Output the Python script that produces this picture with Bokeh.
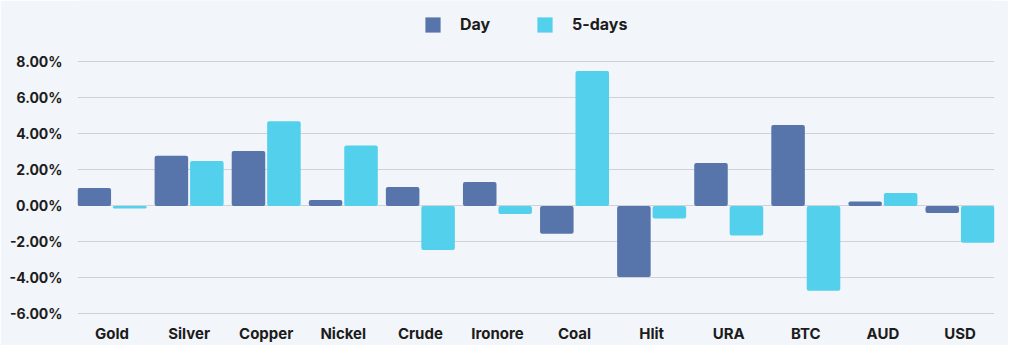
from bokeh.plotting import figure
from bokeh.models import ColumnDataSource, FactorRange, Range1d, FixedTicker, PrintfTickFormatter, Legend, LegendItem
from bokeh.transform import dodge
from bokeh.embed import file_html
from bokeh.resources import INLINE

categories = ["Gold", "Silver", "Copper", "Nickel", "Crude", "Ironore", "Coal", "Hlit", "URA", "BTC", "AUD", "USD"]
day = [1.0, 2.78, 3.05, 0.33, 1.05, 1.33, -1.55, -3.95, 2.38, 4.5, 0.25, -0.4]
five_days = [-0.15, 2.5, 4.7, 3.35, -2.45, -0.45, 7.5, -0.7, -1.65, -4.72, 0.72, -2.05]
y_ticks = [-6, -4, -2, 0, 2, 4, 6, 8]

src = ColumnDataSource(dict(cat=categories, day=day, five=five_days))

FONT = "Inter"
BG = "#f2f5f9"

p = figure(x_range=FactorRange(*categories, range_padding=-0.0087), y_range=Range1d(-6.2, 11.41),
           frame_width=917, frame_height=317, output_backend="svg", toolbar_location=None,
           min_border_left=77, min_border_right=14, min_border_top=0, min_border_bottom=22)
p.background_fill_color = BG
p.border_fill_color = BG
p.outline_line_color = None

r1 = p.vbar(x=dodge("cat", -0.23, range=p.x_range), top="day", width=0.435, source=src,
            fill_color="#5875ab", line_color=None, border_radius=2)
r2 = p.vbar(x=dodge("cat", 0.23, range=p.x_range), top="five", width=0.435, source=src,
            fill_color="#52d0ec", line_color=None, border_radius=2)

p.xgrid.grid_line_color = None
p.ygrid.grid_line_color = "#cfd2d6"
p.ygrid.grid_line_width = 1
p.yaxis.ticker = FixedTicker(ticks=y_ticks)
p.yaxis.formatter = PrintfTickFormatter(format="%.2f%%")

for ax in (p.xaxis[0], p.yaxis[0]):
    ax.axis_line_color = None
    ax.major_tick_line_color = None
    ax.minor_tick_line_color = None
    ax.major_label_text_font = FONT
    ax.major_label_text_font_style = "bold"
    ax.major_label_text_color = "#1c1c1c"
p.yaxis.major_label_text_font_size = "14px"
p.xaxis.major_label_text_font_size = "15px"
p.yaxis.major_label_standoff = 9
p.xaxis.major_label_standoff = 0


def make_legend(label, rend, x):
    lg = Legend(items=[LegendItem(label=label, renderers=[rend])],
                orientation="horizontal", location=(x, 283))
    lg.background_fill_alpha = 0
    lg.border_line_color = None
    lg.label_text_font = FONT
    lg.label_text_font_style = "bold"
    lg.label_text_font_size = "16px"
    lg.label_text_color = "#1c1c1c"
    lg.glyph_width = 19
    lg.glyph_height = 19
    lg.label_standoff = 18
    lg.padding = 4
    lg.margin = 0
    return lg


p.add_layout(make_legend("Day", r1, 346), "center")
p.add_layout(make_legend("5-days", r2, 458), "center")

open("out.html", "w").write(file_html(p, INLINE))
